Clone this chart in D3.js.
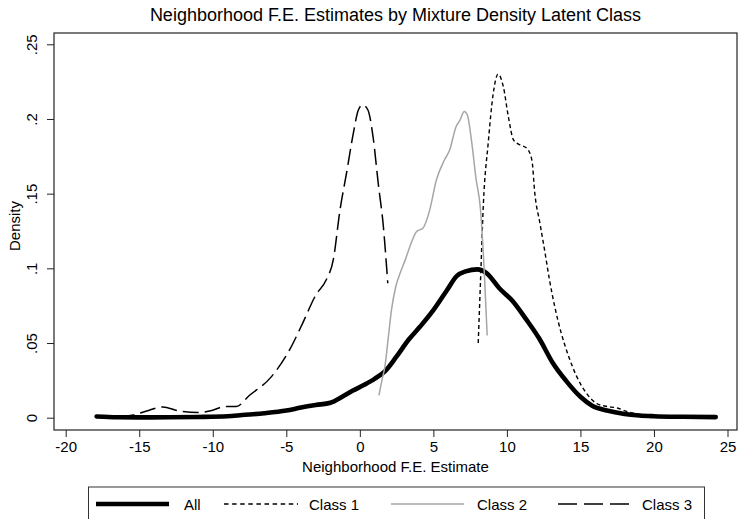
<!DOCTYPE html>
<html>
<head>
<meta charset="utf-8">
<script src="https://cdn.jsdelivr.net/npm/d3@7"></script>
<style>
  html, body { margin: 0; padding: 0; background: #fff; }
  svg { display: block; font-family: "Liberation Sans", Arial, Helvetica, sans-serif; }
</style>
</head>
<body>
<svg id="chart" width="738" height="519"></svg>
<script>
// Kernel density estimates of neighborhood fixed effects: [estimate, density]
const allDensity = [
  [-17.9, 0.0008], [-16.5, 0.0003], [-15, 0.0002], [-13, 0.0003], [-11, 0.0005],
  [-9, 0.001], [-8, 0.0018], [-6.5, 0.003], [-5, 0.0048], [-4, 0.0068],
  [-3, 0.0085], [-2, 0.010], [-1.2, 0.014], [-0.5, 0.018], [0.3, 0.022],
  [1.0, 0.026], [1.7, 0.031], [2.5, 0.041], [3.3, 0.052], [4.1, 0.061],
  [5.0, 0.072], [5.9, 0.085], [6.6, 0.095], [7.2, 0.098], [8.0, 0.0993],
  [8.6, 0.097], [9.5, 0.0865], [10.4, 0.078], [11.3, 0.066], [12.2, 0.053],
  [13.1, 0.037], [14.0, 0.025], [15.0, 0.014], [15.8, 0.008], [16.8, 0.0048],
  [18, 0.0025], [19, 0.0015], [20, 0.001], [22, 0.0006], [24.2, 0.0004]
];
const class1Density = [
  [8.05, 0.05], [8.2, 0.09], [8.4, 0.143], [8.73, 0.184], [9.07, 0.217],
  [9.4, 0.23], [9.75, 0.222], [10.1, 0.2015], [10.45, 0.186], [10.9, 0.1826],
  [11.35, 0.1804], [11.7, 0.1725], [11.9, 0.15], [12.25, 0.13], [12.6, 0.11],
  [12.9, 0.092], [13.25, 0.0745], [13.7, 0.0565], [14.2, 0.041], [14.75, 0.0275],
  [15.4, 0.0165], [16.1, 0.0095], [16.8, 0.0075], [17.5, 0.0065], [18.2, 0.004],
  [19, 0.0022], [20, 0.001], [22, 0.0006], [24.2, 0.0004]
];
const class2Density = [
  [1.3, 0.015], [1.5, 0.025], [1.7, 0.034], [1.95, 0.055], [2.15, 0.072],
  [2.45, 0.088], [2.75, 0.097], [3.1, 0.106], [3.4, 0.1145], [3.85, 0.1245],
  [4.3, 0.127], [4.75, 0.139], [5.2, 0.159], [5.75, 0.1725], [6.1, 0.179],
  [6.55, 0.195], [6.8, 0.199], [7.1, 0.205], [7.3, 0.203], [7.6, 0.185],
  [7.9, 0.16], [8.2, 0.14], [8.45, 0.1], [8.66, 0.055]
];
const class3Density = [
  [-17.9, 0.001], [-16.5, 0.0005], [-15.4, 0.0018], [-14.5, 0.0045], [-13.4, 0.0072],
  [-12.3, 0.0045], [-11, 0.0035], [-10, 0.005], [-9.2, 0.0075], [-8.4, 0.0075],
  [-7.5, 0.015], [-6.1, 0.0265], [-4.8, 0.045], [-3.9, 0.063], [-3.0, 0.082],
  [-2.3, 0.092], [-1.8, 0.106], [-1.35, 0.139], [-0.9, 0.164], [-0.45, 0.19],
  [-0.1, 0.206], [0.2, 0.2095], [0.55, 0.206], [0.9, 0.188], [1.25, 0.157],
  [1.6, 0.128], [1.9, 0.09]
];

const xTicks = [-20, -15, -10, -5, 0, 5, 10, 15, 20, 25];
const yTicks = [0, 0.05, 0.1, 0.15, 0.2, 0.25];
const yTickLabels = ["0", ".05", ".1", ".15", ".2", ".25"];
const seriesNames = ["All", "Class 1", "Class 2", "Class 3"];

const titleText = "Neighborhood F.E. Estimates by Mixture Density Latent Class";
const xTitle = "Neighborhood F.E. Estimate";
const yTitle = "Density";

// Plot region
const frame = { left: 54, right: 737, top: 33, bottom: 430 };
const labelSize = 15;

const x = d3.scaleLinear().domain([-20, 25]).range([65.7, 727.5]);
const y = d3.scaleLinear().domain([0, 0.25]).range([417.7, 44.3]);

const styles = {
  "All":     { stroke: "#000", width: 4.6, dash: null, cap: "round" },
  "Class 1": { stroke: "#000", width: 1.4, dash: "4,3", cap: "butt" },
  "Class 2": { stroke: "#a6a6a6", width: 1.5, dash: null, cap: "butt" },
  "Class 3": { stroke: "#000", width: 1.5, dash: "16,6", cap: "butt" }
};
const seriesData = {
  "All": allDensity, "Class 1": class1Density,
  "Class 2": class2Density, "Class 3": class3Density
};

const svg = d3.select("#chart");

// Title
svg.append("text")
  .attr("x", (frame.left + frame.right) / 2)
  .attr("y", 21)
  .attr("text-anchor", "middle")
  .attr("font-size", 18)
  .text(titleText);

// Plot frame
svg.append("rect")
  .attr("x", frame.left).attr("y", frame.top)
  .attr("width", frame.right - frame.left)
  .attr("height", frame.bottom - frame.top)
  .attr("fill", "none").attr("stroke", "#222").attr("stroke-width", 1.2);

// X axis
const xAxis = d3.axisBottom(x).tickValues(xTicks).tickSize(7).tickPadding(4)
  .tickFormat(d => d < 0 ? "-" + Math.abs(d) : String(d));
const gx = svg.append("g")
  .attr("transform", `translate(0,${frame.bottom})`)
  .call(xAxis);
gx.select(".domain").remove();
gx.selectAll(".tick line").attr("stroke", "#222");
gx.selectAll(".tick text")
  .attr("font-size", labelSize).attr("fill", "#000")
  .attr("font-family", "Liberation Sans, Arial, sans-serif");

// Y axis with rotated tick labels
const yAxis = d3.axisLeft(y).tickValues(yTicks).tickSize(7)
  .tickFormat((d, i) => yTickLabels[i]);
const gy = svg.append("g")
  .attr("transform", `translate(${frame.left},0)`)
  .call(yAxis);
gy.select(".domain").remove();
gy.selectAll(".tick line").attr("stroke", "#222");
gy.selectAll(".tick text")
  .attr("font-size", labelSize).attr("fill", "#000")
  .attr("font-family", "Liberation Sans, Arial, sans-serif")
  .attr("x", null).attr("dy", null)
  .attr("text-anchor", "middle")
  .attr("transform", "translate(-17,0) rotate(-90)")
  .attr("y", 0);

// Axis titles
svg.append("text")
  .attr("x", (frame.left + frame.right) / 2)
  .attr("y", 472)
  .attr("text-anchor", "middle")
  .attr("font-size", labelSize)
  .text(xTitle);

svg.append("text")
  .attr("transform", "translate(20,226) rotate(-90)")
  .attr("text-anchor", "middle")
  .attr("font-size", labelSize)
  .text(yTitle);

// Density curves
const line = d3.line()
  .x(d => x(d[0]))
  .y(d => y(d[1]))
  .curve(d3.curveMonotoneX);

seriesNames.forEach(name => {
  const s = styles[name];
  svg.append("path")
    .datum(seriesData[name])
    .attr("d", line)
    .attr("fill", "none")
    .attr("stroke", s.stroke)
    .attr("stroke-width", s.width)
    .attr("stroke-linecap", s.cap)
    .attr("stroke-linejoin", "round")
    .attr("stroke-dasharray", s.dash);
});

// Legend
const legend = { left: 88.5, right: 704.5, top: 487, bottom: 530, midY: 504 };
svg.append("rect")
  .attr("x", legend.left).attr("y", legend.top)
  .attr("width", legend.right - legend.left)
  .attr("height", legend.bottom - legend.top)
  .attr("fill", "#fff").attr("stroke", "#333").attr("stroke-width", 1);

const legendItems = [
  { name: "All", x0: 96, x1: 169, tx: 184, dash: null },
  { name: "Class 1", x0: 224, x1: 298, tx: 309, dash: "4.5,3.6" },
  { name: "Class 2", x0: 391, x1: 464, tx: 477, dash: null },
  { name: "Class 3", x0: 558, x1: 630, tx: 642, dash: "19,7" }
];
legendItems.forEach(it => {
  const s = styles[it.name];
  svg.append("line")
    .attr("x1", it.x0).attr("x2", it.x1)
    .attr("y1", legend.midY).attr("y2", legend.midY)
    .attr("stroke", s.stroke)
    .attr("stroke-width", s.width)
    .attr("stroke-dasharray", it.dash);
  svg.append("text")
    .attr("x", it.tx).attr("y", 510)
    .attr("font-size", labelSize)
    .text(it.name);
});
</script>
</body>
</html>
